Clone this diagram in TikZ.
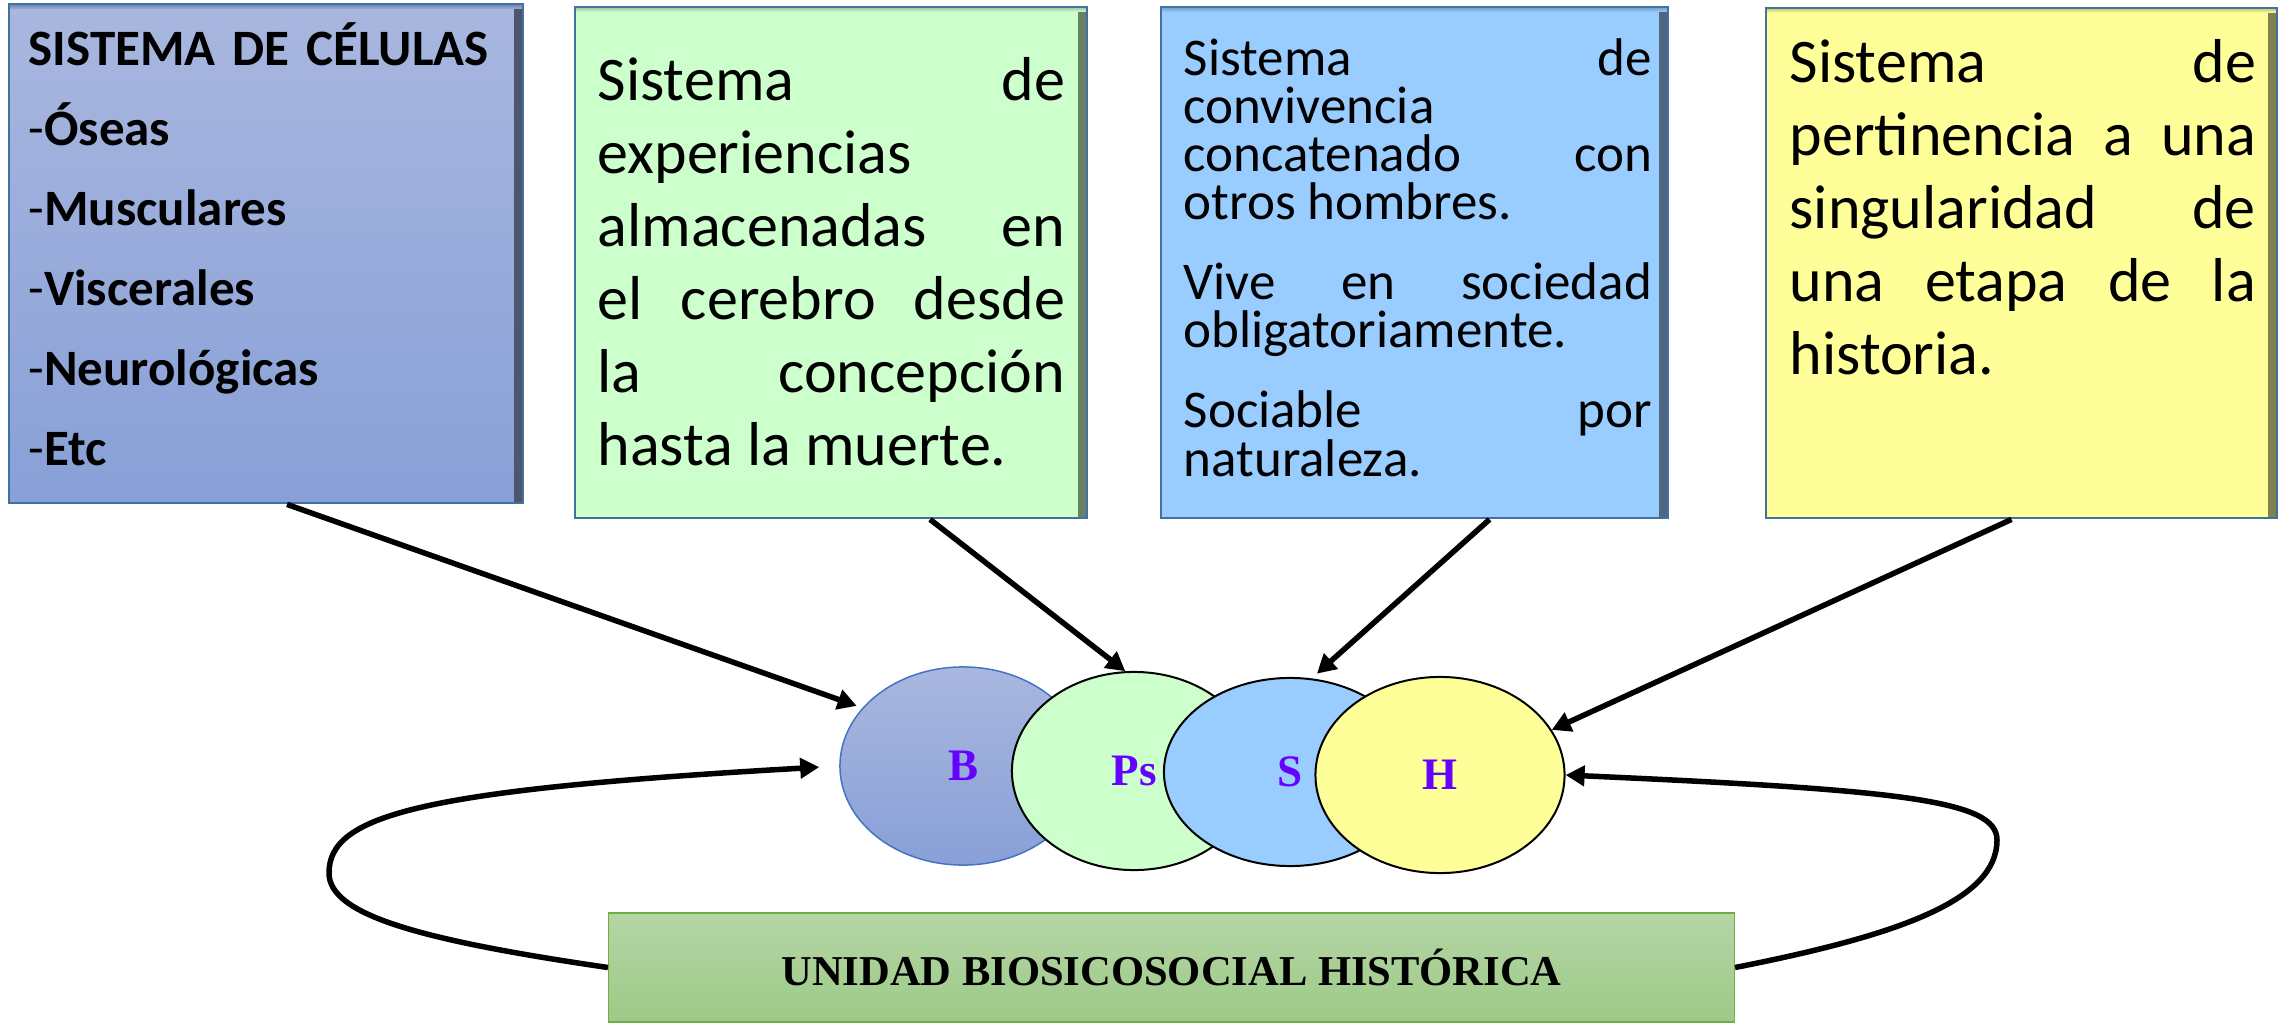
\documentclass[tikz,border=0pt]{standalone}
\usepackage{fontspec}
\setmainfont{Carlito}
\newfontfamily\romanfont{Liberation Serif}
\usetikzlibrary{arrows.meta,shapes.geometric}
\setlength{\parindent}{0pt}
\tolerance=10000
\hbadness=10000
\hyphenpenalty=10000
\lineskiplimit=-20pt
\definecolor{celtop}{RGB}{169,183,223}
\definecolor{celbot}{RGB}{136,160,215}
\definecolor{celmid}{RGB}{150,170,218}
\definecolor{psigreen}{RGB}{204,255,204}
\definecolor{socblue}{RGB}{153,204,255}
\definecolor{hisyellow}{RGB}{255,255,153}
\definecolor{edgeblue}{RGB}{65,113,156}
\definecolor{ringblue}{RGB}{68,114,196}
\definecolor{unitop}{RGB}{181,213,165}
\definecolor{unibot}{RGB}{157,202,136}
\definecolor{uniedge}{RGB}{112,173,71}
\definecolor{lettercol}{RGB}{102,0,255}
\newcommand{\firstline}{\rule{0pt}{1em}}

\begin{document}
\begin{tikzpicture}[x=0.01cm,y=-0.01cm,
        panel/.style={draw=edgeblue,line width=0.025cm,inner sep=0pt,fill=#1,
            path picture={
                \shade[left color=#1,right color=#1!50!black]
                    ([xshift=-0.09cm]path picture bounding box.north east) rectangle (path picture bounding box.south east);
                \shade[top color=#1!75!black,bottom color=#1]
                    (path picture bounding box.north west) rectangle ([yshift=-0.05cm]path picture bounding box.north east);}},
        note/.style={anchor=north west,inner sep=0pt,text width=#1,align=justify},
        ring/.style={ellipse,draw,line width=0.02cm,inner sep=0pt,text=lettercol,
            font=\romanfont\bfseries\fontsize{12.8}{15}\selectfont},
        link/.style={line width=0.055cm,-{Triangle[length=0.19cm,width=0.2cm]}}]
    \useasboundingbox (0,0) rectangle (2285,1024);

    \node[panel=celmid,top color=celtop,bottom color=celbot,minimum width=5.14cm,minimum height=4.99cm] (cel) at (266,253.5) {};
    \node[panel=psigreen,minimum width=5.12cm,minimum height=5.11cm] (psi) at (831,262.5) {};
    \node[panel=socblue,minimum width=5.07cm,minimum height=5.11cm] (soc) at (1414.5,262.5) {};
    \node[panel=hisyellow,minimum width=5.11cm,minimum height=5.10cm] (his) at (2021.5,263) {};

    \node[anchor=north west,inner sep=0pt,text width=4.8cm,align=left,
        font=\fontsize{14.5}{22.76}\selectfont] (celtext) at (28,14)
        {\firstline\textbf{SISTEMA DE CÉLULAS}\\-\textbf{Óseas}\\-\textbf{Musculares}\\-\textbf{Viscerales}\\-\textbf{Neurológicas}\\-\textbf{Etc}};
    \node[note=4.67cm,font=\fontsize{17.64}{20.77}\selectfont] (psitext) at (597,38)
        {\firstline Sistema de\linebreak experiencias\linebreak almacenadas en\linebreak el cerebro desde\linebreak la concepción\linebreak hasta la muerte.};
    \node[note=4.68cm,font=\fontsize{15.08}{13.66}\selectfont\setlength{\parskip}{9.1pt}] (soctext) at (1183,22)
        {\firstline Sistema de\linebreak convivencia\linebreak concatenado con\linebreak otros hombres.\par
        Vive en sociedad\linebreak obligatoriamente.\par
        Sociable por\linebreak naturaleza.};
    \node[note=4.66cm,font=\fontsize{17.64}{20.77}\selectfont] (histext) at (1789,20)
        {\firstline Sistema de\linebreak pertinencia a una\linebreak singularidad de\linebreak una etapa de la\linebreak historia.};

    \node[ring,draw=ringblue,line width=0.015cm,top color=celtop,bottom color=celbot,minimum width=2.46cm,minimum height=1.98cm] (bio) at (963,766) {B};
    \node[ring,fill=psigreen,minimum width=2.44cm,minimum height=1.98cm] (psy) at (1134,771) {Ps};
    \node[ring,fill=socblue,minimum width=2.52cm,minimum height=1.88cm] (soci) at (1290,772) {S};
    \node[ring,fill=hisyellow,minimum width=2.49cm,minimum height=1.96cm] (hist) at (1440,775) {H};

    \node[draw=uniedge,line width=0.015cm,top color=unitop,bottom color=unibot,minimum width=11.25cm,minimum height=1.09cm,
        font=\romanfont\bfseries\fontsize{12.1}{15}\selectfont] (unidad) at (1171.5,967.5) {UNIDAD BIOSICOSOCIAL HISTÓRICA};

    \draw[link,shorten >=0.06cm] ([xshift=0.21cm]cel.south) -- (bio.150);
    \draw[link] ([xshift=0.99cm]psi.south) -- (psy.95);
    \draw[link,shorten >=0.07cm] ([xshift=0.75cm]soc.south) -- (soci.77);
    \draw[link] ([xshift=-0.1cm]his.south) -- (hist.22);

    \draw[link,shorten >=0.2cm] (unidad.west) .. controls (420,940) and (329,915) .. (329,873)
        .. controls (329,815) and (420,790) .. (bio.west);
    \draw[link] (unidad.east) .. controls (1900,935) and (1997,900) .. (1997,840)
        .. controls (1997,800) and (1900,790) .. (hist.east);
\end{tikzpicture}
\end{document}
